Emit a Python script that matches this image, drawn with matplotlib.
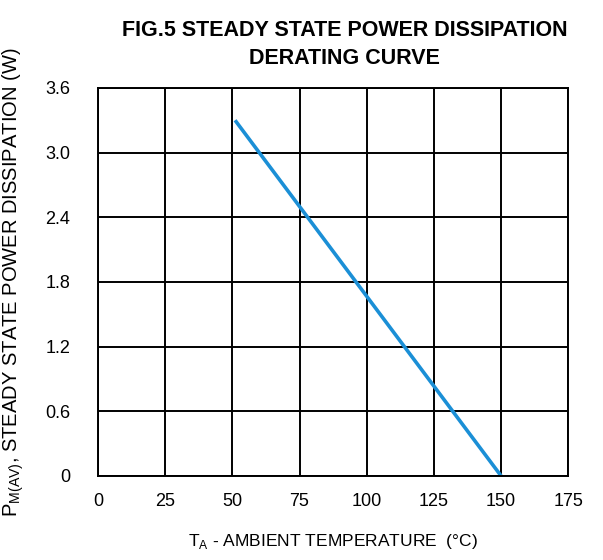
import matplotlib
matplotlib.use("Agg")
import matplotlib.pyplot as plt

plt.rcParams['font.family'] = ['Liberation Sans', 'DejaVu Sans']
plt.rcParams['mathtext.fontset'] = 'custom'
plt.rcParams['mathtext.rm'] = 'Liberation Sans'

# derating curve: ambient temperature (C) vs power (W)
temp = [51, 150]
power = [3.3, 0.0]

x_ticks = [0, 25, 50, 75, 100, 125, 150, 175]
y_ticks = [0, 0.6, 1.2, 1.8, 2.4, 3.0, 3.6]
y_labels = ['0', '0.6', '1.2', '1.8', '2.4', '3.0', '3.6']

fig = plt.figure(figsize=(6.03, 5.6), dpi=100)
ax = fig.add_axes([0.1625, 0.15, 0.78, 0.693])

ax.plot(temp, power, color='#1b8fd6', lw=2.6, solid_capstyle='butt')

ax.set_xlim(0, 175)
ax.set_ylim(0, 3.6)
ax.set_xticks(x_ticks)
ax.set_yticks(y_ticks)
ax.set_yticklabels(y_labels)
ax.grid(True, color='black', lw=1.4)
ax.set_axisbelow(True)
for s in ax.spines.values():
    s.set_color('black')
    s.set_linewidth(1.4)
ax.tick_params(length=0, labelsize=13, colors='black')
ax.tick_params(axis='x', pad=12)
ax.tick_params(axis='y', pad=20)

ax.set_xlabel(r'T$_\mathregular{A}$ - AMBIENT TEMPERATURE  (°C)', fontsize=12.5, labelpad=16)
ax.set_ylabel(r'P$_\mathregular{M(AV)}$, STEADY STATE POWER DISSIPATION (W)', fontsize=14.5, labelpad=14)

fig.text(0.572, 0.946, 'FIG.5 STEADY STATE POWER DISSIPATION', ha='center', va='center',
         fontsize=15.5, fontweight='bold')
fig.text(0.572, 0.895, 'DERATING CURVE', ha='center', va='center',
         fontsize=15.5, fontweight='bold')

fig.savefig('out.png', dpi=100)
